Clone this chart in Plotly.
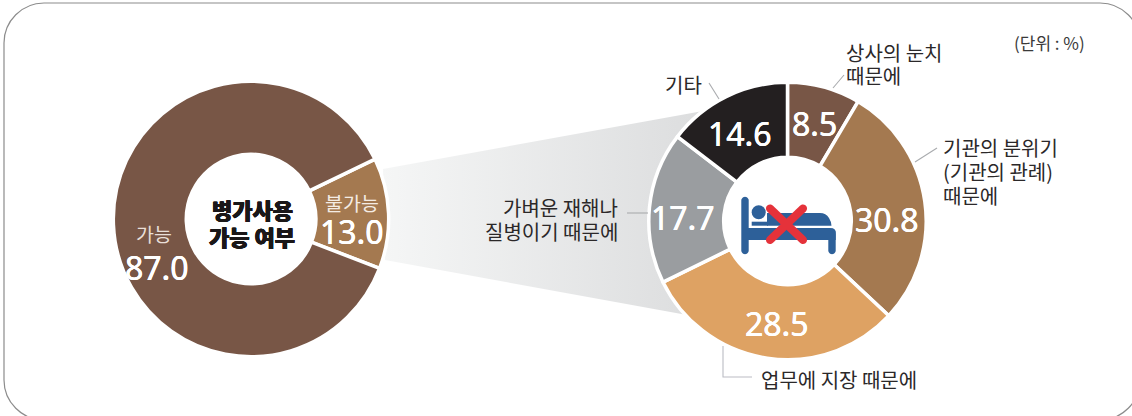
import math
import plotly.graph_objects as go

# ---- data ----
avail_labels = ["불가능", "가능"]
avail_values = [13.0, 87.0]
avail_colors = ["#a47950", "#785646"]

reason_labels = ["상사의 눈치 때문에", "기관의 분위기 (기관의 관례) 때문에", "업무에 지장 때문에",
                 "가벼운 재해나 질병이기 때문에", "기타"]
# printed on the slices
reason_values = [8.5, 30.8, 28.5, 17.7, 14.6]
# slice sizes as measured in the picture: the reference draws the 30.8 slice smaller than the 28.5 one
reason_drawn = [8.5, 28.5, 30.8, 17.7, 14.6]
reason_colors = ["#785646", "#a47950", "#dea263", "#9a9da0", "#231f20"]

title_lines = ["병가사용", "가능 여부"]
unit_text = "(단위 : %)"

# ---- layout helpers ----
W, H = 1132, 416
KR = "Noto Sans CJK KR"
NUM = "Noto Sans"
INK = "#2b2829"


def domain(cx, cy, r):
    return dict(x=[(cx - r) / W, (cx + r) / W], y=[1 - (cy + r) / H, 1 - (cy - r) / H])


def capsule(x0, y0, x1, y1, w, color):
    a = math.atan2(y1 - y0, x1 - x0)
    pts = []
    for (px, py, start) in ((x1, y1, a - math.pi / 2), (x0, y0, a + math.pi / 2)):
        for i in range(13):
            t = start + math.pi * i / 12
            pts.append((px + w / 2 * math.cos(t), py + w / 2 * math.sin(t)))
    path = "M" + " L".join(f"{x:.2f},{y:.2f}" for x, y in pts) + " Z"
    return dict(type="path", path=path, fillcolor=color, line_width=0, layer="above",
                xref="x", yref="y")


def poly(path, color):
    return dict(type="path", path=path, fillcolor=color, line_width=0, layer="above",
                xref="x", yref="y")


def leader(path, color="#a9abae"):
    return dict(type="path", path=path, line=dict(color=color, width=1.1), layer="above",
                xref="x", yref="y")


def text(x, y, s, size, color=INK, anchor="left", family=KR, weight=None, shadow=None):
    f = dict(family=family, size=size, color=color)
    if weight:
        f["weight"] = weight
    if shadow:
        f["shadow"] = shadow
    return dict(x=x, y=y, xref="x", yref="y", text=s, showarrow=False, xanchor=anchor,
                yanchor="middle", font=f, borderpad=0)


fig = go.Figure()

# gradient connector
fig.add_trace(go.Scatter(
    x=[383, 703, 687, 385, 383], y=[169, 111, 315, 260, 169],
    mode="none", fill="toself", hoverinfo="skip", showlegend=False,
    fillgradient=dict(type="horizontal", colorscale=[[0, "#f5f6f6"], [1, "#dcddde"]]),
))

fig.add_trace(go.Pie(
    labels=avail_labels, values=avail_values, sort=False, direction="clockwise",
    rotation=64.2, hole=0.47, domain=domain(251, 219, 137.7),
    marker=dict(colors=avail_colors, line=dict(color="white", width=3.5)),
    textinfo="none", hoverinfo="label+value", showlegend=False,
))
fig.add_trace(go.Pie(
    labels=reason_labels, values=reason_drawn, sort=False, direction="clockwise",
    rotation=0, hole=0.46, domain=domain(787.5, 221, 138.7),
    marker=dict(colors=reason_colors, line=dict(color="white", width=3.5)),
    textinfo="none", hoverinfo="label+value", showlegend=False,
))

BLUE = "#2d6099"
RED = "#e5323a"
shapes = [
    # frame
    dict(type="path",
         path="M4,43 C4,21 22,3 44,3 L1100,3 C1122,3 1140,21 1140,43 L1140,380 "
              "C1140,402 1122,420 1100,420 L44,420 C22,420 4,402 4,380 Z",
         line=dict(color="#8c8c8c", width=1.2), layer="below", xref="x", yref="y"),
    # leaders
    leader("M709,83 L719,99"),
    leader("M844,75 L833,88"),
    leader("M937,148 L915,162"),
    leader("M627,213 L648,213"),
    leader("M723,346 L723,377 L752,377", "#bbbcc4"),
    # bed icon
    capsule(745, 200.5, 745, 250.5, 7.4, BLUE),
    capsule(832, 232, 832, 250.5, 7.4, BLUE),
    poly("M748,228 L830,228 Q835.7,228.5 835.7,234 L835.7,240 L748,240 Z", BLUE),
    poly("M767,213 L820,213 Q826,213 829,218 Q831.5,222 831.5,225.7 L767,225.7 Z", BLUE),
    poly("M751.7,221.7 L768,221.7 L768,225.7 L751.7,225.7 Z", BLUE),
    dict(type="circle", x0=751.7, x1=765.7, y0=205.3, y1=219.3, fillcolor=BLUE, line_width=0,
         layer="above", xref="x", yref="y"),
    capsule(770, 208.5, 803, 240, 8, RED),
    capsule(803, 208.5, 770, 240, 8, RED),
]

HEAVY = "0.5px 0 0 #1a1718, -0.5px 0 0 #1a1718, 0 0.4px 0 #1a1718, 0 -0.4px 0 #1a1718"
FIRM = "0.3px 0 0 white, -0.3px 0 0 white"
annotations = [
    text(252, 209, title_lines[0], 22, "#1a1718", "center", weight=900, shadow=HEAVY),
    text(252, 236, title_lines[1], 22, "#1a1718", "center", weight=900, shadow=HEAVY),
    text(154, 233, avail_labels[1], 19.5, "#e9dfd8", "center"),
    text(157, 267, f"{avail_values[1]:.1f}", 32, "white", "center", NUM, shadow=FIRM),
    text(352, 202, avail_labels[0], 19.5, "#f4ece4", "center"),
    text(352, 231, f"{avail_values[0]:.1f}", 32, "white", "center", NUM, shadow=FIRM),
    text(814, 123, f"{reason_values[0]:.1f}", 32, "white", "center", NUM, shadow=FIRM),
    text(887, 219, f"{reason_values[1]:.1f}", 32, "white", "center", NUM, shadow=FIRM),
    text(777, 323, f"{reason_values[2]:.1f}", 32, "white", "center", NUM, shadow=FIRM),
    text(683, 217, f"{reason_values[3]:.1f}", 32, "white", "center", NUM, shadow=FIRM),
    text(740, 133, f"{reason_values[4]:.1f}", 32, "white", "center", NUM, shadow=FIRM),
    text(845, 52, "상사의 눈치", 20),
    text(845, 75, "때문에", 20),
    text(942, 147, "기관의 분위기", 20),
    text(942, 171, "(기관의 관례)", 20),
    text(942, 195, "때문에", 20),
    text(619, 207, "가벼운 재해나", 20, anchor="right"),
    text(619, 231, "질병이기 때문에", 20, anchor="right"),
    text(760, 379, "업무에 지장 때문에", 20),
    text(703, 84, "기타", 20, anchor="right"),
    text(1049, 42, unit_text, 17, "#3a3a3a", "center"),
]

fig.update_layout(
    width=W, height=H, margin=dict(l=0, r=0, t=0, b=0),
    paper_bgcolor="white", plot_bgcolor="white", showlegend=False,
    xaxis=dict(range=[0, W], visible=False, fixedrange=True),
    yaxis=dict(range=[H, 0], visible=False, fixedrange=True),
    shapes=shapes, annotations=annotations,
)
fig.write_html("out.html", config=dict(displayModeBar=False),
               post_script="document.body.style.margin='0';document.documentElement.style.overflow='hidden';")
